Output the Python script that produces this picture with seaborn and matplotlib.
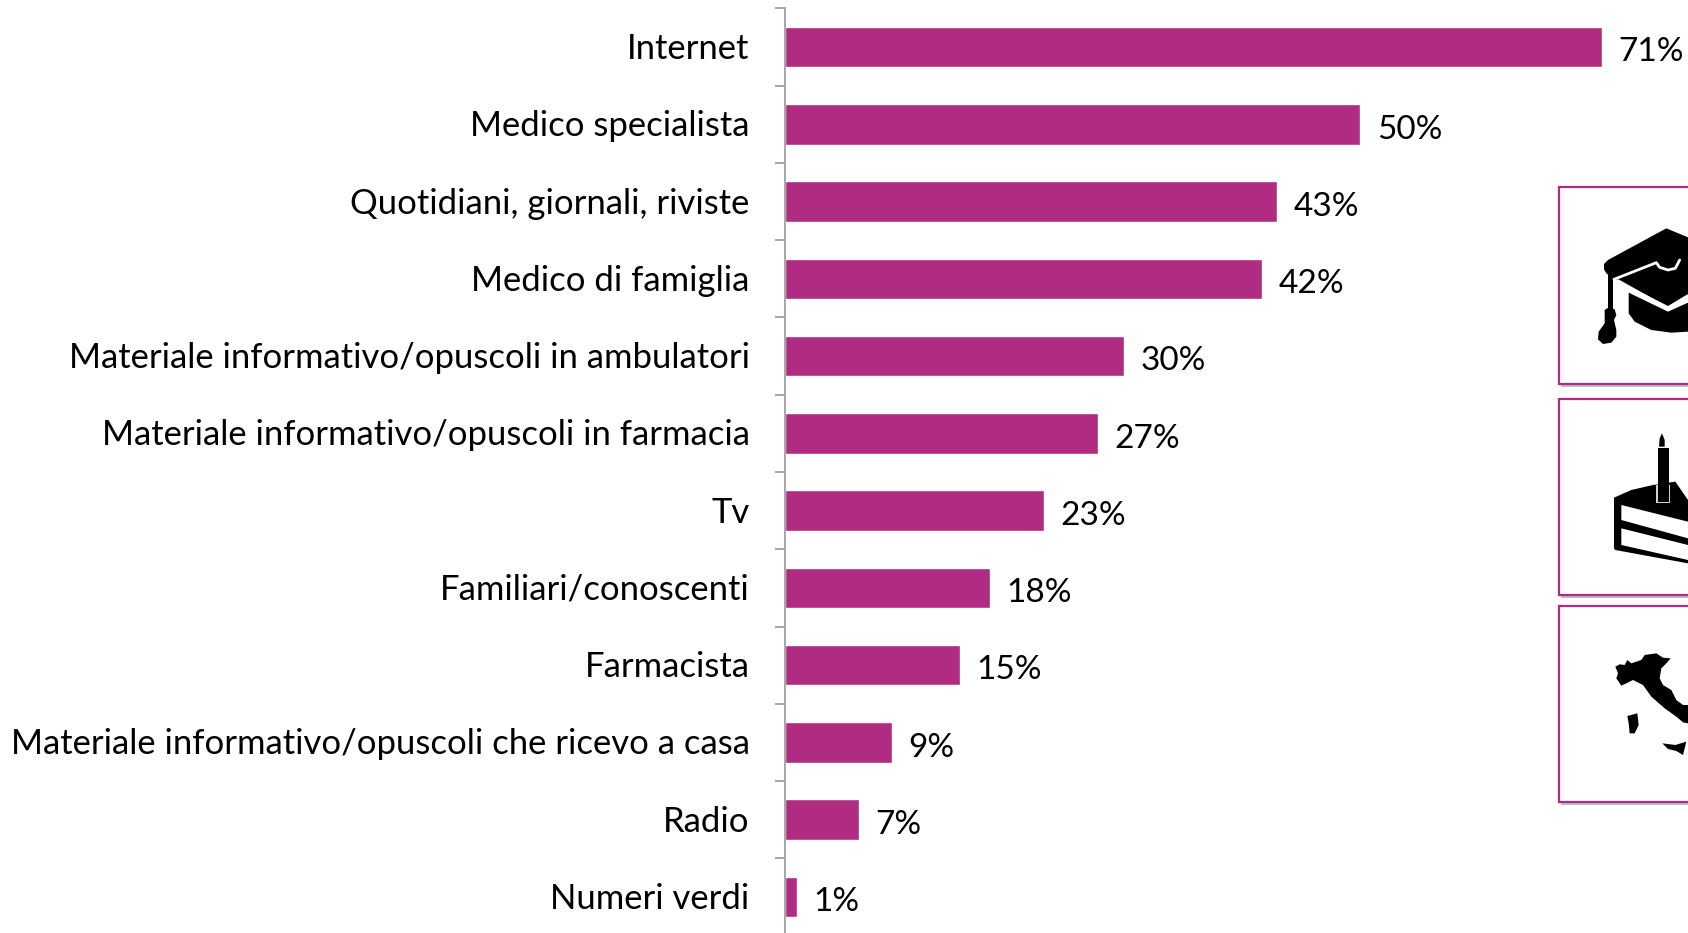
import numpy as np
import pandas as pd
import matplotlib.pyplot as plt
from matplotlib.patches import Polygon, Rectangle
from matplotlib.transforms import ScaledTranslation
import seaborn as sns

fonti = ["Internet", "Medico specialista", "Quotidiani, giornali, riviste", "Medico di famiglia",
         "Materiale informativo/opuscoli in ambulatori", "Materiale informativo/opuscoli in farmacia",
         "Tv", "Familiari/conoscenti", "Farmacista",
         "Materiale informativo/opuscoli che ricevo a casa", "Radio", "Numeri verdi"]
valori = [71, 50, 42.8, 41.5, 29.5, 27.2, 22.5, 17.8, 15.2, 9.3, 6.4, 1]
etichette = ["71%", "50%", "43%", "42%", "30%", "27%", "23%", "18%", "15%", "9%", "7%", "1%"]

VIOLA = "#B02C82"
GRIGIO = "#A6A6A6"
W, H = 1688, 933

sns.set_theme(style="white")
plt.rcParams["font.family"] = ["Lato", "DejaVu Sans"]

df = pd.DataFrame({"fonte": fonti, "valore": valori})

fig = plt.figure(figsize=(W / 100, H / 100), dpi=100, facecolor="white")
# axes runs past the bottom edge, the last slot is cut in the original too
top, bottom, left = 8.4, 935.6, 785
ax = fig.add_axes([left / W, 1 - bottom / H, (W - left) / W, (bottom - top) / H])

sns.barplot(data=df, y="fonte", x="valore", color=VIOLA, saturation=1, width=0.525, ax=ax)
ax.set_xlim(0, (W - left) / 11.5)
ax.set_xlabel("")
ax.set_ylabel("")
ax.xaxis.set_visible(False)
sns.despine(ax=ax, top=True, right=True, bottom=True)
ax.spines["left"].set_color(GRIGIO)
ax.spines["left"].set_linewidth(1.4)

ax.tick_params(axis="y", which="major", length=0, pad=25.5, labelsize=24.9, labelcolor="black")
ax.set_yticks(np.arange(-0.5, 12), minor=True)
ax.tick_params(axis="y", which="minor", left=True, length=7.5, width=1.4, color=GRIGIO)
# labels sit a touch above the bar centres
su = ScaledTranslation(0, 1 / 100, fig.dpi_scale_trans)
for lab in ax.get_yticklabels():
    lab.set_transform(lab.get_transform() + su)

for lab in ax.bar_label(ax.containers[0], labels=etichette, padding=12, fontsize=24, color="black"):
    lab.set_y(-3.8)

# overlay in pixel coords for the boxes and icons on the right
ov = fig.add_axes([0, 0, 1, 1], facecolor="none")
ov.set_xlim(0, W)
ov.set_ylim(H, 0)
ov.axis("off")

for y0, y1 in [(187, 384), (399, 595), (606, 802)]:
    ov.add_patch(Rectangle((1561, y0 + 3), 140, y1 - y0, fc="#BDBDBD", ec="none", zorder=1))
    ov.add_patch(Rectangle((1559, y0), 140, y1 - y0, fc="white", ec=VIOLA, lw=1.6, zorder=2))


def forma(x0, y0, pts, colore="black", z=3):
    p = [(x0 + x / 3, y0 + y / 3) for x, y in pts]
    ov.add_patch(Polygon(p, closed=True, fc=colore, ec="none", zorder=z))


def linea(x0, y0, pts):
    xs = [x0 + x / 3 for x, y in pts]
    ys = [y0 + y / 3 for x, y in pts]
    ov.plot(xs, ys, color="white", lw=2.0, zorder=4, solid_capstyle="round")


# cap
cx, cy = 1588, 220
forma(cx, cy, [(48, 148), (48, 132), (60, 120), (235, 25), (300, 52), (300, 222), (240, 258), (90, 182), (68, 170), (55, 160)])
forma(cx, cy, [(122, 218), (240, 275), (300, 248), (300, 335), (250, 338), (190, 330), (140, 305), (122, 280)])
forma(cx, cy, [(60, 165), (75, 165), (75, 268), (60, 268)])
forma(cx, cy, [(50, 270), (62, 262), (80, 268), (85, 285), (78, 300), (85, 330), (85, 350), (70, 368), (45, 372),
               (30, 358), (32, 335), (50, 310), (50, 295)])
linea(cx, cy, [(78, 178), (205, 128), (215, 142), (240, 150), (262, 145), (275, 120)])
linea(cx, cy, [(90, 182), (240, 266), (300, 235)])

# cake
cx, cy = 1598, 425
forma(cx, cy, [(48, 218), (100, 195), (165, 180), (232, 170), (270, 225), (270, 415), (52, 375), (48, 370)])
forma(cx, cy, [(70, 240), (270, 290), (270, 340), (70, 285)], "white", 4)
forma(cx, cy, [(70, 310), (270, 360), (270, 405), (70, 360)], "white", 4)
forma(cx, cy, [(174, 180), (216, 180), (216, 235), (174, 235)], "#D0D0D0", 5)
forma(cx, cy, [(180, 68), (212, 68), (212, 230), (180, 230)], "black", 6)
forma(cx, cy, [(192, 25), (200, 45), (200, 65), (183, 65), (185, 40)], "black", 6)

# italy
cx, cy = 1598, 645
forma(cx, cy, [(52, 65), (65, 58), (80, 60), (88, 45), (100, 55), (130, 45), (140, 30), (175, 25), (195, 38), (218, 40),
               (205, 55), (190, 70), (185, 100), (195, 120), (220, 135), (235, 165), (255, 180), (270, 180), (270, 235),
               (255, 232), (235, 215), (200, 190), (160, 155), (135, 120), (105, 105), (85, 115), (70, 122), (55, 100),
               (60, 85)])
forma(cx, cy, [(88, 213), (118, 205), (122, 240), (110, 265), (95, 265), (92, 235)])
forma(cx, cy, [(193, 295), (232, 300), (265, 290), (255, 330), (235, 318), (210, 312)])

plt.savefig("out.png", dpi=100)
